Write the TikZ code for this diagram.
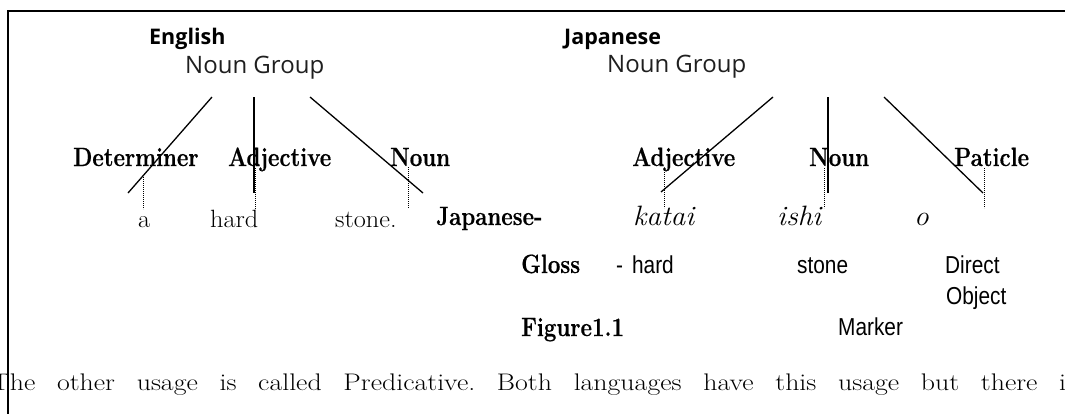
\documentclass[tikz,border=0pt]{standalone}
\usepackage{fontspec}
\newfontfamily\headfont{Open Sans}
\newfontfamily\glossfont[FakeStretch=0.85]{Liberation Sans}
\newfontfamily\lblfont[FakeStretch=0.84, BoldFeatures={FakeBold=0.5}]{Latin Modern Roman}
\newfontfamily\wordfont[FakeStretch=1.05]{Latin Modern Roman}
\newfontfamily\bodyfont[FakeStretch=1.16]{Latin Modern Roman}
\tikzset{
  lang/.style={font=\headfont\bfseries\fontsize{21.5}{26}\selectfont, anchor=base west, inner sep=0pt},
  group/.style={font=\headfont\fontsize{24}{28}\selectfont, text=black!88, anchor=base west, inner sep=0pt},
  cat/.style={font=\lblfont\bfseries\fontsize{26.5}{30}\selectfont, anchor=base west, inner sep=0pt},
  word/.style={font=\wordfont\fontsize{25}{29}\selectfont, anchor=base west, inner sep=0pt},
  jword/.style={font=\wordfont\itshape\fontsize{28}{32}\selectfont, anchor=base west, inner sep=0pt},
  gloss/.style={font=\glossfont\fontsize{24.5}{28}\selectfont, anchor=base west, inner sep=0pt},
  branch/.style={line width=1.3pt},
  trace/.style={line width=0.9pt, dash pattern=on 0.8pt off 1.2pt},
  frameline/.style={line width=1.8pt},
}
\begin{document}
\begin{tikzpicture}[x=1pt,y=-1pt]
\useasboundingbox (0,0) rectangle (1065,413);

% frame: top rule and left rule
\coordinate (fbl) at (8,420);
\coordinate (ftl) at (8,10.7);
\coordinate (ftr) at (1075,10.7);
\draw[frameline] (fbl) -- (ftl) -- (ftr);

% ---------- English noun group ----------
\node[lang]  (en)   at (149,44) {English};
\node[group] (enNG) at (185,73) {Noun Group};

\node[cat] (enDet) at (73,166)  {Determiner};
\node[cat] (enAdj) at (228,166) {Adjective};
\node[cat] (enN)   at (390,166) {Noun};

\coordinate (eb1t) at (212,97);  \coordinate (eb1b) at (128,193);
\coordinate (eb2t) at (254,97);  \coordinate (eb2b) at (254,193);
\coordinate (eb3t) at (310,97);  \coordinate (eb3b) at (423,193);
\draw[branch] (eb1t) -- (eb1b);
\draw[branch] (eb2t) -- (eb2b);
\draw[branch] (eb3t) -- (eb3b);

\coordinate (ed1t) at (143,177); \coordinate (ed1b) at (143,209);
\coordinate (ed2t) at (255,168); \coordinate (ed2b) at (255,209);
\coordinate (ed3t) at (408,167); \coordinate (ed3b) at (408,208);
\draw[trace] (ed1t) -- (ed1b);
\draw[trace] (ed2t) -- (ed2b);
\draw[trace] (ed3t) -- (ed3b);

\node[word] (wa)     at (138,227) {a};
\node[word] (whard)  at (210,227) {hard};
\node[word] (wstone) at (335,227) {stone.};

% ---------- Japanese noun group ----------
\node[lang]  (ja)   at (564,44) {Japanese};
\node[group] (jaNG) at (607,72) {Noun Group};

\node[cat] (jaAdj) at (632,166) {Adjective};
\node[cat] (jaN)   at (809,166) {Noun};
\node[cat] (jaP)   at (954,166) {Paticle};

\coordinate (jb1t) at (773,97);  \coordinate (jb1b) at (661,192);
\coordinate (jb2t) at (828,97);  \coordinate (jb2b) at (828,193);
\coordinate (jb3t) at (884,97);  \coordinate (jb3b) at (983,193);
\draw[branch] (jb1t) -- (jb1b);
\draw[branch] (jb2t) -- (jb2b);
\draw[branch] (jb3t) -- (jb3b);

\coordinate (jd1t) at (664,168); \coordinate (jd1b) at (664,208);
\coordinate (jd2t) at (824,168); \coordinate (jd2b) at (824,208);
\coordinate (jd3t) at (984,168); \coordinate (jd3b) at (984,208);
\draw[trace] (jd1t) -- (jd1b);
\draw[trace] (jd2t) -- (jd2b);
\draw[trace] (jd3t) -- (jd3b);

\node[cat]   (jaRow) at (436,225) {Japanese-};
\node[jword] (katai) at (633,225) {katai};
\node[jword] (ishi)  at (777,225) {ishi};
\node[jword] (parto) at (914,225) {o};

\node[cat]   (glossLbl) at (521,273) {Gloss};
\node[gloss] (ghard)    at (616,273) {-\hspace{9pt}hard};
\node[gloss] (gstone)   at (797,273) {stone};
\node[gloss] (gdirect)  at (945,273) {Direct};
\node[gloss] (gobject)  at (946,304) {Object};
\node[gloss] (gmarker)  at (838,335) {Marker};
\node[cat]   (figlbl)   at (521,336) {Figure1.1};

% ---------- running text below ----------
\node[anchor=base west, inner sep=0pt, font=\bodyfont\fontsize{24}{28}\selectfont] (body) at (-9,390)
  {\frenchspacing\hbox to 1085pt{\spaceskip=0.4em plus 3em\relax The other usage is called Predicative. Both languages have this usage but there is}};
\end{tikzpicture}
\end{document}
